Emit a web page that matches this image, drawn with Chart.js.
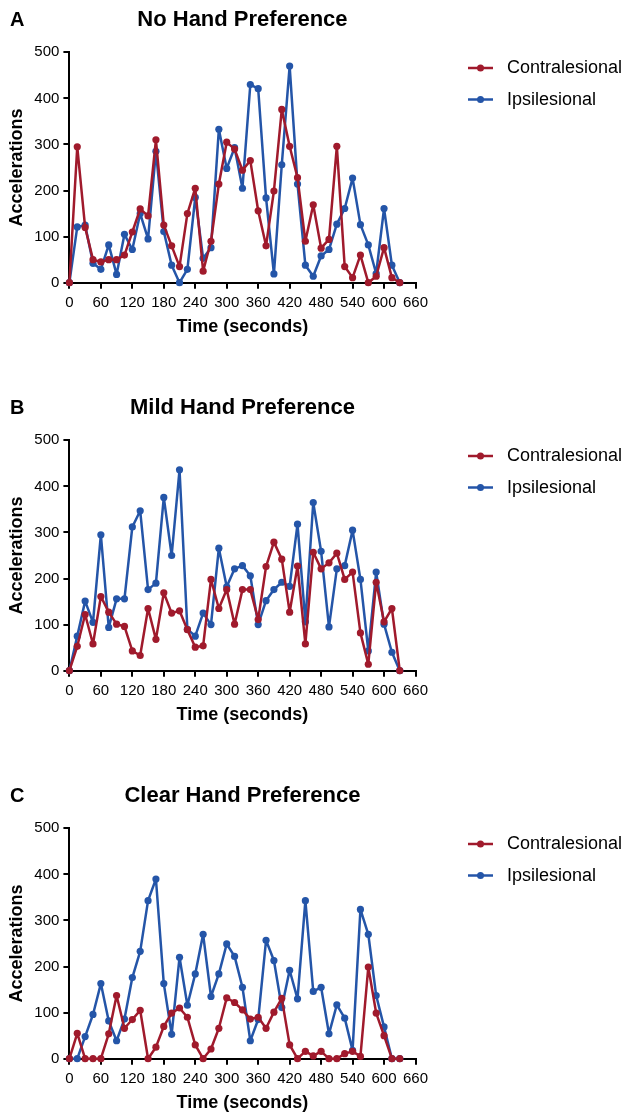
<!DOCTYPE html>
<html>
<head>
<meta charset="utf-8">
<script src="https://cdn.jsdelivr.net/npm/chart.js@4"></script>
<style>
  html, body { margin: 0; padding: 0; background: #fff; overflow: hidden; }
  .panel { position: absolute; left: 0; width: 628px; height: 388px; }
</style>
</head>
<body>
<div class="panel" style="top:0px"><canvas id="panelA" width="628" height="388"></canvas></div>
<div class="panel" style="top:388px"><canvas id="panelB" width="628" height="388"></canvas></div>
<div class="panel" style="top:776px"><canvas id="panelC" width="628" height="388"></canvas></div>
<script>
// Sampling times (seconds)
const times = [0, 15, 30, 45, 60, 75, 90, 105, 120, 135, 150, 165, 180, 195, 210, 225, 240, 255, 270, 285,
  300, 315, 330, 345, 360, 375, 390, 405, 420, 435, 450, 465, 480, 495, 510, 525, 540, 555, 570, 585,
  600, 615, 630];

// Axis tick labels
const xTicks = [0, 60, 120, 180, 240, 300, 360, 420, 480, 540, 600, 660];
const yTicks = [0, 100, 200, 300, 400, 500];

// Series names
const seriesNames = ['Contralesional', 'Ipsilesional'];

// A: No Hand Preference
const noPrefContra = [0, 295, 120, 50, 45, 50, 50, 60, 110, 160, 145, 310, 125, 80, 35, 150, 205, 25, 90, 214,
  305, 290, 244, 265, 156, 80, 199, 376, 296, 228, 90, 169, 75, 94, 296, 35, 11, 60, 0, 14,
  76, 11, 0];
const noPrefIpsi = [0, 121, 125, 42, 29, 82, 18, 105, 72, 150, 95, 285, 111, 38, 0, 29, 185, 53, 76, 333,
  248, 293, 205, 430, 421, 184, 19, 256, 470, 214, 38, 14, 58, 72, 127, 161, 227, 126, 82, 20,
  161, 38, 0];

// B: Mild Hand Preference
const mildContra = [0, 53, 122, 58, 161, 127, 101, 96, 43, 33, 135, 68, 169, 125, 130, 89, 51, 54, 198, 135,
  176, 101, 176, 176, 111, 226, 279, 242, 127, 227, 58, 257, 221, 234, 255, 198, 214, 82, 14, 192,
  106, 135, 0];
const mildIpsi = [0, 75, 151, 105, 295, 94, 156, 156, 312, 347, 176, 190, 376, 250, 436, 90, 75, 125, 100, 266,
  182, 221, 228, 206, 100, 152, 176, 192, 183, 318, 106, 365, 259, 95, 221, 228, 305, 198, 43, 214,
  101, 40, 0];

// C: Clear Hand Preference
const clearContra = [0, 55, 0, 0, 0, 54, 137, 66, 85, 105, 0, 25, 70, 99, 110, 90, 30, 0, 21, 66,
  132, 122, 106, 86, 90, 66, 101, 131, 30, 0, 16, 6, 16, 0, 0, 11, 16, 5, 199, 99,
  50, 0, 0];
const clearIpsi = [0, 0, 48, 96, 163, 82, 39, 86, 176, 233, 343, 390, 163, 53, 220, 116, 184, 270, 135, 184,
  249, 222, 155, 39, 85, 257, 213, 111, 192, 130, 343, 146, 155, 54, 117, 88, 18, 324, 270, 137,
  69, 0, 0];

const FONT = '"Liberation Sans", Arial, Helvetica, sans-serif';
const RED = '#A01A2C';
const BLUE = '#2455A8';

// Panel letter, centred title and line-with-dot legend
const panelText = {
  id: 'panelText',
  afterDraw(chart, args, opts) {
    const ctx = chart.ctx;
    const area = chart.chartArea;
    ctx.save();
    ctx.fillStyle = '#000';
    ctx.textBaseline = 'alphabetic';
    ctx.textAlign = 'left';
    ctx.font = 'bold 20px ' + FONT;
    ctx.fillText(opts.letter, 10, 26);
    ctx.textAlign = 'center';
    ctx.font = 'bold 22px ' + FONT;
    ctx.fillText(opts.title, (area.left + area.right) / 2, 25.5);

    ctx.font = '18px ' + FONT;
    ctx.textAlign = 'left';
    ctx.textBaseline = 'middle';
    chart.data.datasets.forEach((ds, i) => {
      const y = 68 + i * 31.5;
      ctx.strokeStyle = ds.borderColor;
      ctx.lineWidth = 2.5;
      ctx.beginPath();
      ctx.moveTo(468, y);
      ctx.lineTo(493, y);
      ctx.stroke();
      ctx.fillStyle = ds.borderColor;
      ctx.beginPath();
      ctx.arc(480.5, y, 3.5, 0, Math.PI * 2);
      ctx.fill();
      ctx.fillStyle = '#000';
      ctx.fillText(ds.label, 507, y + 0.5);
    });
    ctx.restore();
  }
};

function series(values) {
  return times.map((t, i) => ({ x: t, y: values[i] }));
}

function makePanel(id, letter, title, contra, ipsi) {
  const lineStyle = (label, color, values) => ({
    label: label,
    data: series(values),
    borderColor: color,
    backgroundColor: color,
    pointBackgroundColor: color,
    pointBorderColor: color,
    pointBorderWidth: 0,
    pointRadius: 3.6,
    borderWidth: 2.5,
    borderJoinStyle: 'round',
    borderCapStyle: 'round',
    tension: 0,
    clip: false
  });
  return new Chart(document.getElementById(id), {
    type: 'line',
    data: {
      datasets: [
        lineStyle(seriesNames[0], RED, contra),
        lineStyle(seriesNames[1], BLUE, ipsi)
      ]
    },
    options: {
      responsive: false,
      animation: false,
      layout: { padding: { left: 0, right: 212.5, top: 52.3, bottom: 45.3 } },
      plugins: {
        legend: { display: false },
        tooltip: { enabled: false },
        panelText: { letter: letter, title: title }
      },
      scales: {
        x: {
          type: 'linear',
          min: 0,
          max: 660,
          afterBuildTicks: s => { s.ticks = xTicks.map(v => ({ value: v })); },
          afterFit: s => { s.height = 60; },
          grid: { drawOnChartArea: false, drawTicks: true, tickLength: 6, color: '#000', lineWidth: 2 },
          border: { display: true, color: '#000', width: 2 },
          ticks: { color: '#000', font: { family: FONT, size: 15 }, padding: 5, maxRotation: 0, autoSkip: false },
          title: {
            display: true, text: 'Time (seconds)', color: '#000',
            font: { family: FONT, size: 18, weight: 'bold' },
            padding: { top: 0, bottom: 4.6 }
          }
        },
        y: {
          type: 'linear',
          min: 0,
          max: 500,
          afterBuildTicks: s => { s.ticks = yTicks.map(v => ({ value: v })); },
          afterFit: s => { s.width = 69.4; },
          grid: { drawOnChartArea: false, drawTicks: true, tickLength: 6, color: '#000', lineWidth: 2 },
          border: { display: true, color: '#000', width: 2 },
          ticks: { color: '#000', font: { family: FONT, size: 15 }, padding: 4 },
          title: {
            display: true, text: 'Accelerations', color: '#000',
            font: { family: FONT, size: 18, weight: 'bold' },
            padding: { top: 6.3, bottom: 0 }
          }
        }
      }
    },
    plugins: [panelText]
  });
}

makePanel('panelA', 'A', 'No Hand Preference', noPrefContra, noPrefIpsi);
makePanel('panelB', 'B', 'Mild Hand Preference', mildContra, mildIpsi);
makePanel('panelC', 'C', 'Clear Hand Preference', clearContra, clearIpsi);
</script>
</body>
</html>
